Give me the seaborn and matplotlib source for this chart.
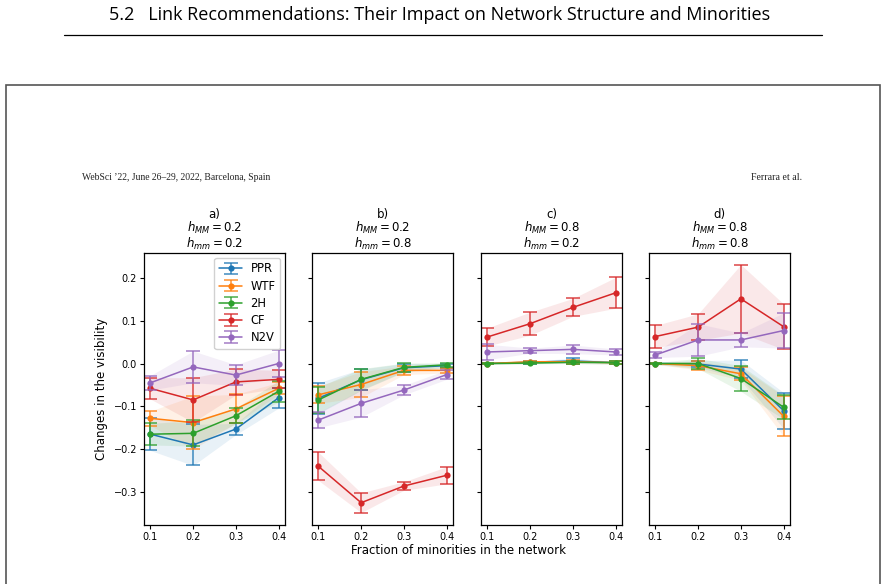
import numpy as np
import matplotlib
matplotlib.use("Agg")
import matplotlib.pyplot as plt
import seaborn as sns
from matplotlib.patches import Rectangle
from matplotlib.lines import Line2D
from matplotlib.legend_handler import HandlerTuple

# fraction of minorities
x = [0.1, 0.2, 0.3, 0.4]
methods = ["PPR", "WTF", "2H", "CF", "N2V"]
colors = ["#1f77b4", "#ff7f0e", "#2ca02c", "#d62728", "#9467bd"]

panel_titles = ["a)\n$h_{MM} = 0.2$\n$h_{mm} = 0.2$",
                "b)\n$h_{MM} = 0.2$\n$h_{mm} = 0.8$",
                "c)\n$h_{MM} = 0.8$\n$h_{mm} = 0.2$",
                "d)\n$h_{MM} = 0.8$\n$h_{mm} = 0.8$"]

# panel a
a_ppr = [-0.165, -0.190, -0.153, -0.080]
a_ppr_err = [0.038, 0.048, 0.013, 0.024]
a_wtf = [-0.128, -0.138, -0.106, -0.058]
a_wtf_err = [0.017, 0.062, 0.034, 0.014]
a_2h = [-0.165, -0.163, -0.122, -0.065]
a_2h_err = [0.025, 0.030, 0.018, 0.025]
a_cf = [-0.058, -0.085, -0.043, -0.037]
a_cf_err = [0.025, 0.052, 0.030, 0.021]
a_n2v = [-0.045, -0.008, -0.027, 0.000]
a_n2v_err = [0.017, 0.037, 0.024, 0.031]

# panel b
b_ppr = [-0.081, -0.038, -0.010, -0.005]
b_ppr_err = [0.036, 0.025, 0.010, 0.005]
b_wtf = [-0.073, -0.049, -0.016, -0.016]
b_wtf_err = [0.020, 0.030, 0.010, 0.006]
b_2h = [-0.085, -0.037, -0.009, -0.003]
b_2h_err = [0.030, 0.025, 0.010, 0.005]
b_cf = [-0.240, -0.325, -0.286, -0.261]
b_cf_err = [0.033, 0.023, 0.010, 0.020]
b_n2v = [-0.132, -0.093, -0.062, -0.026]
b_n2v_err = [0.018, 0.032, 0.011, 0.011]

# panel c
c_ppr = [0.000, 0.003, 0.006, 0.002]
c_ppr_err = [0.002, 0.003, 0.006, 0.003]
c_wtf = [0.000, 0.004, 0.004, 0.002]
c_wtf_err = [0.002, 0.003, 0.004, 0.003]
c_2h = [0.000, 0.001, 0.003, 0.002]
c_2h_err = [0.002, 0.002, 0.003, 0.003]
c_cf = [0.062, 0.093, 0.131, 0.165]
c_cf_err = [0.021, 0.027, 0.021, 0.036]
c_n2v = [0.027, 0.030, 0.033, 0.027]
c_n2v_err = [0.018, 0.006, 0.010, 0.007]

# panel d
d_ppr = [0.000, -0.001, -0.013, -0.110]
d_ppr_err = [0.002, 0.008, 0.021, 0.042]
d_wtf = [0.000, -0.005, -0.024, -0.123]
d_wtf_err = [0.002, 0.010, 0.015, 0.047]
d_2h = [0.000, 0.000, -0.035, -0.102]
d_2h_err = [0.002, 0.012, 0.030, 0.028]
d_cf = [0.063, 0.085, 0.151, 0.086]
d_cf_err = [0.026, 0.031, 0.080, 0.053]
d_n2v = [0.020, 0.055, 0.055, 0.077]
d_n2v_err = [0.006, 0.038, 0.016, 0.041]

panels = [
    [(a_ppr, a_ppr_err), (a_wtf, a_wtf_err), (a_2h, a_2h_err), (a_cf, a_cf_err), (a_n2v, a_n2v_err)],
    [(b_ppr, b_ppr_err), (b_wtf, b_wtf_err), (b_2h, b_2h_err), (b_cf, b_cf_err), (b_n2v, b_n2v_err)],
    [(c_ppr, c_ppr_err), (c_wtf, c_wtf_err), (c_2h, c_2h_err), (c_cf, c_cf_err), (c_n2v, c_n2v_err)],
    [(d_ppr, d_ppr_err), (d_wtf, d_wtf_err), (d_2h, d_2h_err), (d_cf, d_cf_err), (d_n2v, d_n2v_err)],
]

sns.set_style("ticks", rc={"text.color": "black", "axes.labelcolor": "black",
                           "xtick.color": "black", "ytick.color": "black",
                           "axes.edgecolor": "black"})
plt.rcParams["font.family"] = ["DejaVu Sans"]
plt.rcParams["axes.linewidth"] = 0.9

W, H = 887, 584
fig = plt.figure(figsize=(W / 100, H / 100), dpi=100)

# page header
fig.text(440 / W, 1 - 15 / H, "5.2   Link Recommendations: Their Impact on Network Structure and Minorities",
         ha="center", va="center", fontsize=13.0, family="Open Sans")
fig.add_artist(Line2D([64 / W, 822 / W], [1 - 35 / H, 1 - 35 / H], color="black", lw=0.9))
# frame around the embedded figure
fig.add_artist(Rectangle((6.5 / W, -0.05), (880 - 6.5) / W, 1.05 - 85 / H, fill=False,
                         edgecolor="#555555", lw=1.2))
fig.text(82 / W, 1 - 178 / H, "WebSci \u201922, June 26\u201329, 2022, Barcelona, Spain",
         ha="left", va="center", fontsize=6.9, family="Liberation Serif", color="#222222")
fig.text(802 / W, 1 - 178 / H, "Ferrara et al.", ha="right", va="center",
         fontsize=7.1, family="Liberation Serif", color="#222222")

lefts = [144, 312, 481, 649]
axes = []
for i, left in enumerate(lefts):
    ax = fig.add_axes([left / W, 1 - 525 / H, 141 / W, (525 - 253) / H])
    handles = []
    for m, (mean, err), col in zip(methods, panels[i], colors):
        mean = np.array(mean)
        err = np.array(err)
        ax.fill_between(x, mean - err, mean + err, color=col, alpha=0.1, lw=0)
        sns.lineplot(x=x, y=mean, ax=ax, color=col, marker="o", markersize=4.5,
                     markeredgewidth=0, lw=1.1, legend=False)
        line = ax.lines[-1]
        eb = ax.errorbar(x, mean, yerr=err, fmt="none", ecolor=col, elinewidth=1.1,
                         capsize=5, capthick=1.1, alpha=0.85)
        handles.append((line, eb))
    ax.set_ylim(-0.377, 0.258)
    ax.set_xlim(0.085, 0.415)
    ax.set_xticks(x)
    ax.set_xticklabels(["0.1", "0.2", "0.3", "0.4"])
    ax.set_yticks([-0.3, -0.2, -0.1, 0.0, 0.1, 0.2])
    ax.tick_params(labelsize=7.0, length=3, width=0.8, pad=2)
    if i > 0:
        ax.set_yticklabels([])
    ax.set_title(panel_titles[i], fontsize=8.5, pad=4, linespacing=0.92)
    axes.append(ax)
    if i == 0:
        ax.legend(handles, methods, loc="upper right", fontsize=8.3,
                  handler_map={tuple: HandlerTuple(ndivide=1)}, labelspacing=0.36,
                  handlelength=2.0, handletextpad=0.7, borderpad=0.42,
                  borderaxespad=0.4, framealpha=0.9)

axes[0].set_ylabel("Changes in the visibility", fontsize=8.5, labelpad=4)
fig.text(459 / W, 1 - 551 / H, "Fraction of minorities in the network", ha="center",
         va="center", fontsize=8.5)

fig.savefig("out.png", dpi=100)
